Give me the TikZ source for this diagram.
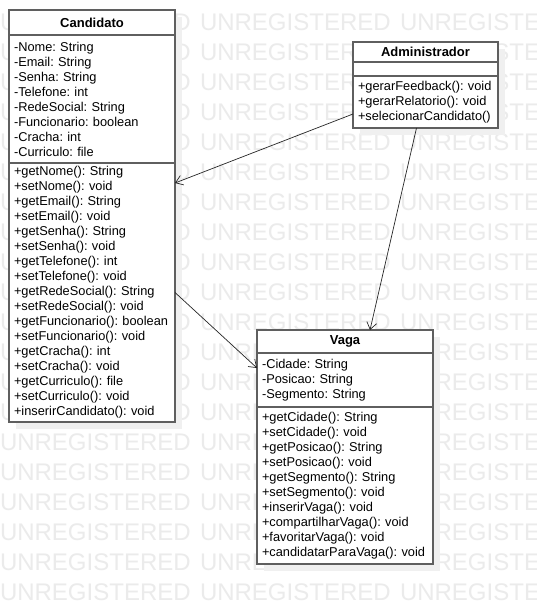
\documentclass[tikz,border=0pt]{standalone}
\usepackage{fontspec}
\setmainfont{Liberation Sans}
\usepackage{tikz}
\usetikzlibrary{arrows.meta,positioning,backgrounds}
\frenchspacing
\definecolor{boxgray}{HTML}{5F5F5F}
\definecolor{markgray}{HTML}{EBEBEB}
\definecolor{shadegray}{HTML}{F0F0F0}
\tikzstyle{every node}=[anchor=north west,outer sep=0pt]
\tikzstyle{classtitle}=[draw=boxgray,fill=white,line width=1.1pt,inner xsep=5pt,inner ysep=1pt,align=center,font=\fontsize{13}{15}\selectfont\bfseries]
\tikzstyle{section}=[draw=boxgray,fill=white,line width=1.1pt,inner xsep=5pt,inner ysep=1pt,align=left,font=\fontsize{12.8}{15}\selectfont]
\tikzstyle{assoc}=[draw=black!85,line width=0.7pt,-{Straight Barb[length=7pt,width=10pt]}]
\tikzstyle{watermark}=[anchor=base west,inner sep=0pt,text=markgray,font=\fontsize{24}{24}\selectfont]

\begin{document}
\begin{tikzpicture}
  \useasboundingbox (0,0) rectangle (537pt,-605pt);

  \node[classtitle,text width=156pt,minimum height=25pt] (cand-title) at (9pt,-10pt) {Candidato};
  \node[section,text width=156pt,minimum height=128pt] (cand-attr) at (cand-title.south west)
    {-Nome: String\\-Email: String\\-Senha: String\\-Telefone: int\\-RedeSocial: String\\-Funcionario: boolean\\-Cracha: int\\-Curriculo: file};
  \node[section,text width=156pt,minimum height=259pt] (cand-meth) at (cand-attr.south west)
    {+getNome(): String\\+setNome(): void\\+getEmail(): String\\+setEmail(): void\\+getSenha(): String\\+setSenha(): void\\+getTelefone(): int\\+setTelefone(): void\\+getRedeSocial(): String\\+setRedeSocial(): void\\+getFuncionario(): boolean\\+setFuncionario(): void\\+getCracha(): int\\+setCracha(): void\\+getCurriculo(): file\\+setCurriculo(): void\\+inserirCandidato(): void};

  \node[classtitle,text width=135pt,minimum height=20pt] (admin-title) at (353pt,-42pt) {Administrador};
  \node[section,text width=135pt,minimum height=14pt] (admin-attr) at (admin-title.south west) {};
  \node[section,text width=135pt,minimum height=52pt] (admin-meth) at (admin-attr.south west)
    {+gerarFeedback(): void\\+gerarRelatorio(): void\\+selecionarCandidato()};

  \node[classtitle,text width=166pt,minimum height=23pt] (vaga-title) at (257pt,-330pt) {Vaga};
  \node[section,text width=166pt,minimum height=54pt] (vaga-attr) at (vaga-title.south west)
    {-Cidade: String\\-Posicao: String\\-Segmento: String};
  \node[section,text width=166pt,minimum height=157pt] (vaga-meth) at (vaga-attr.south west)
    {+getCidade(): String\\+setCidade(): void\\+getPosicao(): String\\+setPosicao(): void\\+getSegmento(): String\\+setSegmento(): void\\+inserirVaga(): void\\+compartilharVaga(): void\\+favoritarVaga(): void\\+candidatarParaVaga(): void};

  \draw[assoc] ([yshift=-12pt]admin-meth.west) -- ([yshift=-20pt]cand-meth.north east);
  \draw[assoc] ([xshift=-9pt]admin-meth.south) -- ([xshift=25pt]vaga-title.north);
  \draw[assoc] (cand-meth.east) -- ([yshift=-15pt]vaga-attr.north west);

  \begin{scope}[on background layer]
    \fill[white] (0,0) rectangle (537pt,-605pt);
    \clip (0,0) rectangle (537pt,-605pt);
    \foreach \row in {0,...,19}
      \foreach \col in {0,1,2}
        \node[watermark] (mark-\row-\col) at ({200pt*\col},{-30.5pt-30pt*\row}) {UNREGISTERED};
    \fill[shadegray] ([shift={(7pt,-7pt)}]cand-title.north west) rectangle ([shift={(7pt,-7pt)}]cand-meth.south east);
    \fill[shadegray] ([shift={(7pt,-7pt)}]admin-title.north west) rectangle ([shift={(7pt,-7pt)}]admin-meth.south east);
    \fill[shadegray] ([shift={(7pt,-7pt)}]vaga-title.north west) rectangle ([shift={(7pt,-7pt)}]vaga-meth.south east);
  \end{scope}
\end{tikzpicture}
\end{document}
